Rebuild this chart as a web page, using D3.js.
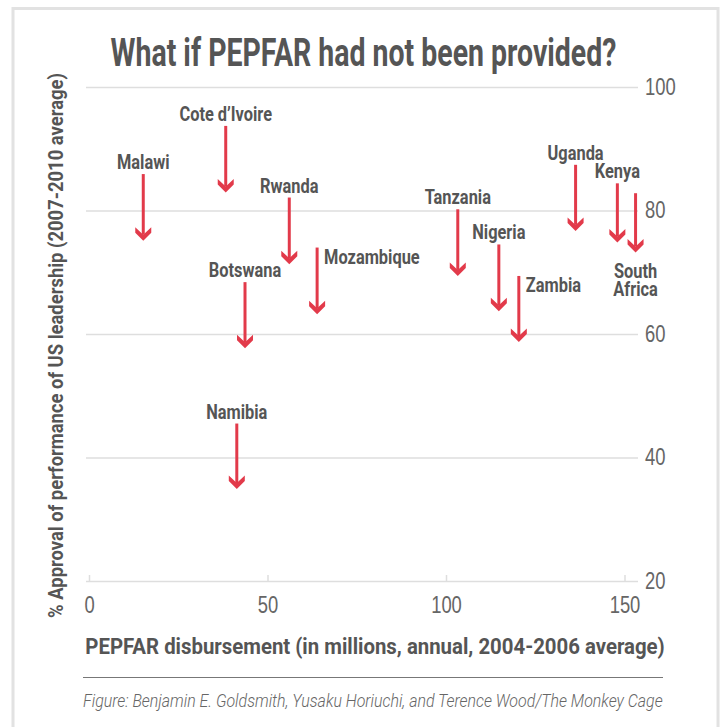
<!DOCTYPE html>
<html>
<head>
<meta charset="utf-8">
<script src="https://cdn.jsdelivr.net/npm/d3@7"></script>
<style>
  html, body { margin: 0; padding: 0; background: #fff; }
  svg { display: block; font-family: Roboto, "Liberation Sans", sans-serif; }
</style>
</head>
<body>
<div id="chart"></div>
<script>
'use strict';

// Data
var countries = ['Malawi', 'Cote d\u2019Ivoire', 'Rwanda', 'Mozambique', 'Botswana', 'Namibia',
  'Tanzania', 'Nigeria', 'Zambia', 'Uganda', 'Kenya', 'South Africa']
var disbursement = [15.2, 38.3, 56.1, 63.9, 43.7, 41.4, 103.3, 114.8, 120.4, 136.3, 148.0, 153.1]
var approvalActual = [85.9, 93.7, 82.1, 74.0, 68.4, 45.5, 80.2, 74.5, 69.4, 87.4, 84.4, 82.8]
var approvalNoPepfar = [75.1, 82.9, 71.3, 63.2, 57.7, 34.9, 69.4, 63.7, 58.7, 76.7, 74.8, 73.2]
var labelSide = ['top', 'top', 'top', 'right', 'top', 'top', 'top', 'top', 'right', 'top', 'top', 'bottom']

var xTicks = [0, 50, 100, 150]
var yTicks = [20, 40, 60, 80, 100]

var title = 'What if PEPFAR had not been provided?'
var xTitle = 'PEPFAR disbursement (in millions, annual, 2004-2006 average)'
var yTitle = '% Approval of performance of US leadership (2007-2010 average)'
var caption = 'Figure: Benjamin E. Goldsmith, Yusaku Horiuchi, and Terence Wood/The Monkey Cage'

var W = 722, H = 727
var red = '#e23a4a', ink = '#555', soft = '#666', grid = '#dedede'

var svg = d3.select('#chart').append('svg')
  .attr('width', W)
  .attr('height', H)

// card border
svg.append('rect')
  .attr('x', 13).attr('y', 8.5)
  .attr('width', 705).attr('height', 800)
  .attr('fill', 'none')
  .attr('stroke', '#e2e2e2')
  .attr('stroke-width', 3)

var x = d3.scaleLinear().domain([0, 150]).range([89, 624.5])
var y = d3.scaleLinear().domain([20, 100]).range([581, 87])

// squeeze text horizontally to mimic the condensed face
function squeeze(sel, k) {
  sel.each(function(){
    var w = this.getComputedTextLength()
    d3.select(this).attr('textLength', w * k).attr('lengthAdjust', 'spacingAndGlyphs')
  })
}
// place a text at (tx,ty) and scale it on x so its width is w
function place(sel, tx, ty, w, rot) {
  sel.each(function(){
    var k = w / this.getComputedTextLength()
    d3.select(this).attr('transform',
      'translate(' + tx + ',' + ty + ')' + (rot ? ' rotate(' + rot + ')' : '') + ' scale(' + k + ',1)')
  })
}

// Y axis: gridlines with labels on the right
var yAxis = d3.axisRight(y)
  .tickValues(yTicks)
  .tickSize(638 - 86)
  .tickPadding(7)
var gy = svg.append('g')
  .attr('transform', 'translate(86,0)')
  .call(yAxis)
gy.select('.domain').remove()
gy.selectAll('.tick line')
  .attr('stroke', grid)
  .attr('stroke-width', 1.5)
gy.selectAll('.tick text')
  .attr('fill', soft)
  .attr('font-size', 23)
  .attr('font-weight', 300)
  .call(squeeze, 0.8)

// X axis: small ticks up from baseline
var xAxis = d3.axisBottom(x)
  .tickValues(xTicks)
  .tickSize(-6)
  .tickPadding(0)
var gx = svg.append('g')
  .attr('transform', 'translate(0,' + y(20) + ')')
  .call(xAxis)
gx.select('.domain').remove()
gx.selectAll('.tick line')
  .attr('stroke', grid)
  .attr('stroke-width', 1.5)
gx.selectAll('.tick text')
  .attr('fill', soft)
  .attr('font-size', 23)
  .attr('font-weight', 300)
  .attr('dy', null)
  .attr('y', 32)
  .call(squeeze, 0.8)

// Title & axis titles
svg.append('text')
  .attr('text-anchor', 'middle')
  .attr('font-size', 38)
  .attr('font-weight', 'bold')
  .attr('fill', ink)
  .text(title)
  .call(place, 363.5, 66, 506)

svg.append('text')
  .attr('text-anchor', 'middle')
  .attr('font-size', 21)
  .attr('font-weight', 'bold')
  .attr('fill', ink)
  .text(yTitle)
  .call(place, 63, 345.5, 545, -90)

svg.append('text')
  .attr('text-anchor', 'middle')
  .attr('font-size', 22)
  .attr('font-weight', 'bold')
  .attr('fill', ink)
  .text(xTitle)
  .call(place, 375, 654, 580)

svg.append('line')
  .attr('x1', 83).attr('x2', 663)
  .attr('y1', 677.5).attr('y2', 677.5)
  .attr('stroke', '#777')
  .attr('stroke-width', 1)

svg.append('text')
  .attr('font-size', 17.5)
  .attr('font-style', 'italic')
  .attr('font-weight', 300)
  .attr('fill', soft)
  .text(caption)
  .call(place, 83, 707, 580)

// Arrows
var data = countries.map(function(c, i){
  return {name: c, x: disbursement[i], y0: approvalActual[i], y1: approvalNoPepfar[i], side: labelSide[i]}
})

var arrows = svg.append('g').selectAll('g.arrow')
  .data(data)
  .enter().append('g')
    .attr('class', 'arrow')
    .attr('transform', function(d){ return 'translate(' + x(d.x) + ',0)' })

arrows.append('line')
  .attr('x1', 0).attr('x2', 0)
  .attr('y1', function(d){ return y(d.y0) })
  .attr('y2', function(d){ return y(d.y1) - 6 })
  .attr('stroke', red)
  .attr('stroke-width', 3)

arrows.append('path')
  .attr('transform', function(d){ return 'translate(0,' + y(d.y1) + ')' })
  .attr('d', 'M0,0 L-8,-8 L-8,-13.5 L0,-6 L8,-13.5 L8,-8 Z')
  .attr('fill', red)

// labels: above the arrow, right of it, or (split in lines) below the tip
arrows.each(function(d){
  var g = d3.select(this)
  var lines = d.side == 'bottom' ? d.name.split(' ') : [d.name]
  lines.forEach(function(line, i){
    var t = g.append('text')
      .attr('class', 'label')
      .attr('font-size', 21)
      .attr('font-weight', 'bold')
      .attr('fill', ink)
      .attr('text-anchor', d.side == 'right' ? 'start' : 'middle')
      .attr('x', d.side == 'right' ? 7 : 0)
      .attr('y', function(){
        if (d.side == 'right') return y(d.y0) + 16
        if (d.side == 'bottom') return y(d.y1) + 26 + i * 18
        return y(d.y0) - 5
      })
      .text(line)
    t.call(squeeze, 0.78)
  })
})
</script>
</body>
</html>
